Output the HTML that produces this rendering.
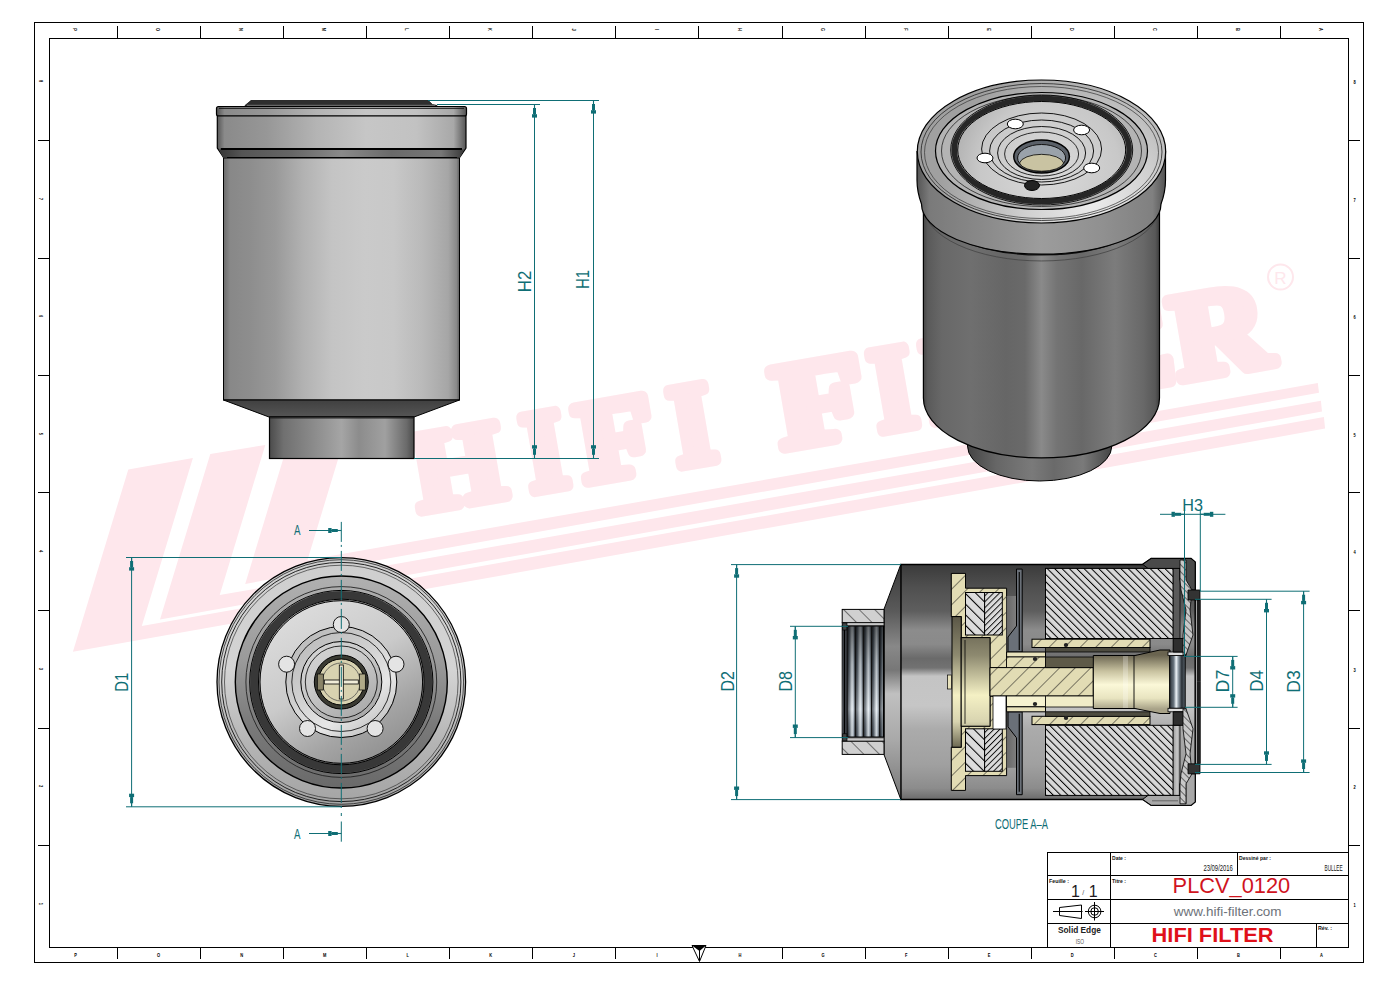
<!DOCTYPE html>
<html><head><meta charset="utf-8">
<style>
html,body{margin:0;padding:0;background:#fff;}
body{width:1400px;height:988px;overflow:hidden;}
svg{display:block;font-family:"Liberation Sans",sans-serif;}
</style></head><body>
<svg width="1400" height="988" viewBox="0 0 1400 988">
<defs><linearGradient id="gFront" x1="223" x2="460" y1="0" y2="0" gradientUnits="userSpaceOnUse">
<stop offset="0" stop-color="#6a6a6a"/><stop offset="0.03" stop-color="#888"/>
<stop offset="0.12" stop-color="#8e8e8e"/><stop offset="0.22" stop-color="#999"/>
<stop offset="0.34" stop-color="#b2b2b2"/><stop offset="0.46" stop-color="#c4c4c4"/>
<stop offset="0.6" stop-color="#cacaca"/><stop offset="0.72" stop-color="#c8c8c8"/>
<stop offset="0.84" stop-color="#bababa"/><stop offset="0.95" stop-color="#a6a6a6"/><stop offset="0.985" stop-color="#8a8a8a"/><stop offset="1" stop-color="#555"/>
</linearGradient>
<linearGradient id="gBand" x1="217" x2="466" y1="0" y2="0" gradientUnits="userSpaceOnUse">
<stop offset="0" stop-color="#555"/><stop offset="0.03" stop-color="#8a8a8a"/>
<stop offset="0.2" stop-color="#979797"/><stop offset="0.4" stop-color="#b4b4b4"/>
<stop offset="0.6" stop-color="#c6c6c6"/><stop offset="0.8" stop-color="#c2c2c2"/>
<stop offset="0.95" stop-color="#a8a8a8"/><stop offset="1" stop-color="#555"/>
</linearGradient>
<linearGradient id="gGroove" x1="217" x2="466" y1="0" y2="0" gradientUnits="userSpaceOnUse">
<stop offset="0" stop-color="#333"/><stop offset="0.1" stop-color="#555"/>
<stop offset="0.3" stop-color="#666"/><stop offset="0.5" stop-color="#8a8a8a"/>
<stop offset="0.7" stop-color="#6a6a6a"/><stop offset="0.9" stop-color="#777"/><stop offset="1" stop-color="#333"/>
</linearGradient>
<linearGradient id="gNeck" x1="269" x2="414" y1="0" y2="0" gradientUnits="userSpaceOnUse">
<stop offset="0" stop-color="#4a4a4a"/><stop offset="0.1" stop-color="#707070"/>
<stop offset="0.3" stop-color="#8a8a8a"/><stop offset="0.5" stop-color="#a5a5a5"/>
<stop offset="0.62" stop-color="#8c8c8c"/><stop offset="0.8" stop-color="#a0a0a0"/>
<stop offset="0.95" stop-color="#6a6a6a"/><stop offset="1" stop-color="#4a4a4a"/>
</linearGradient>
<linearGradient id="gBevel" x1="0" x2="0" y1="400" y2="417" gradientUnits="userSpaceOnUse">
<stop offset="0" stop-color="#404040"/><stop offset="1" stop-color="#555"/>
</linearGradient>
<linearGradient id="gIsoBody" x1="923" x2="1160" y1="0" y2="0" gradientUnits="userSpaceOnUse">
<stop offset="0" stop-color="#444"/><stop offset="0.02" stop-color="#5a5a5a"/>
<stop offset="0.08" stop-color="#686868"/><stop offset="0.2" stop-color="#6f6f6f"/>
<stop offset="0.35" stop-color="#666"/><stop offset="0.43" stop-color="#6a6a6a"/>
<stop offset="0.5" stop-color="#8a8a8a"/><stop offset="0.565" stop-color="#747474"/>
<stop offset="0.67" stop-color="#686868"/><stop offset="0.81" stop-color="#7c7c7c"/>
<stop offset="0.93" stop-color="#686868"/><stop offset="0.98" stop-color="#585858"/>
<stop offset="1" stop-color="#3a3a3a"/>
</linearGradient>
<linearGradient id="gIsoRim" x1="917" x2="1165" y1="0" y2="0" gradientUnits="userSpaceOnUse">
<stop offset="0" stop-color="#555"/><stop offset="0.05" stop-color="#7a7a7a"/>
<stop offset="0.3" stop-color="#8c8c8c"/><stop offset="0.5" stop-color="#9c9c9c"/>
<stop offset="0.75" stop-color="#909090"/><stop offset="0.95" stop-color="#808080"/>
<stop offset="1" stop-color="#555"/>
</linearGradient>
<radialGradient id="gIsoTop" cx="1090" cy="200" r="150" gradientUnits="userSpaceOnUse">
<stop offset="0" stop-color="#ececec"/><stop offset="0.45" stop-color="#cfcfcf"/><stop offset="1" stop-color="#a0a0a0"/>
</radialGradient>
<radialGradient id="gIsoPlate" cx="1050" cy="170" r="100" gradientUnits="userSpaceOnUse">
<stop offset="0" stop-color="#dadada"/><stop offset="0.7" stop-color="#c8c8c8"/><stop offset="1" stop-color="#b0b0b0"/>
</radialGradient>
<linearGradient id="gIsoNeck" x1="967" x2="1112" y1="0" y2="0" gradientUnits="userSpaceOnUse">
<stop offset="0" stop-color="#444"/><stop offset="0.2" stop-color="#666"/>
<stop offset="0.45" stop-color="#7a7a7a"/><stop offset="0.6" stop-color="#6a6a6a"/>
<stop offset="0.8" stop-color="#7a7a7a"/><stop offset="1" stop-color="#444"/>
</linearGradient>
<linearGradient id="gBotOuter" x1="0" x2="0" y1="558" y2="806" gradientUnits="userSpaceOnUse">
<stop offset="0" stop-color="#cecece"/><stop offset="0.45" stop-color="#d4d4d4"/><stop offset="0.75" stop-color="#b4b4b4"/><stop offset="1" stop-color="#a4a4a4"/>
</linearGradient>
<linearGradient id="gBotMid" x1="0" x2="0" y1="576" y2="788" gradientUnits="userSpaceOnUse">
<stop offset="0" stop-color="#b0b0b0"/><stop offset="0.4" stop-color="#9a9a9a"/><stop offset="0.7" stop-color="#7a7a7a"/><stop offset="1" stop-color="#6a6a6a"/>
</linearGradient>
<linearGradient id="gBotPlate" x1="290" x2="390" y1="600" y2="765" gradientUnits="userSpaceOnUse">
<stop offset="0" stop-color="#dedede"/><stop offset="0.45" stop-color="#cacaca"/><stop offset="0.75" stop-color="#a4a4a4"/><stop offset="1" stop-color="#8c8c8c"/>
</linearGradient>
<linearGradient id="gSecBody" x1="0" x2="0" y1="564" y2="800" gradientUnits="userSpaceOnUse">
<stop offset="0" stop-color="#3a3a3a"/><stop offset="0.1" stop-color="#505050"/>
<stop offset="0.2" stop-color="#5e5e5e"/><stop offset="0.28" stop-color="#8c8c8c"/>
<stop offset="0.34" stop-color="#8a8a8a"/><stop offset="0.4" stop-color="#6a6a6a"/>
<stop offset="0.44" stop-color="#727272"/><stop offset="0.475" stop-color="#c4c4c4"/>
<stop offset="0.6" stop-color="#c6c6c6"/><stop offset="0.7" stop-color="#ababab"/>
<stop offset="0.85" stop-color="#a0a0a0"/><stop offset="0.95" stop-color="#8c8c8c"/><stop offset="1" stop-color="#6a6a6a"/>
</linearGradient>
<linearGradient id="gTaper" x1="0" x2="0" y1="564" y2="800" gradientUnits="userSpaceOnUse">
<stop offset="0" stop-color="#3a3a3a"/><stop offset="0.2" stop-color="#5a5a5a"/>
<stop offset="0.35" stop-color="#888"/><stop offset="0.45" stop-color="#777"/>
<stop offset="0.55" stop-color="#c0c0c0"/><stop offset="0.75" stop-color="#a8a8a8"/><stop offset="1" stop-color="#777"/>
</linearGradient>
<linearGradient id="gThread" x1="0" x2="1" y1="0" y2="0" spreadMethod="repeat" gradientUnits="userSpaceOnUse" gradientTransform="translate(847.2,0) scale(8.1,1)">
<stop offset="0" stop-color="#1e2228"/><stop offset="0.25" stop-color="#5a646e"/><stop offset="0.6" stop-color="#e8f0f6"/><stop offset="0.8" stop-color="#a8b4c0"/><stop offset="1" stop-color="#2a3036"/>
</linearGradient>
<linearGradient id="gThreadV" x1="0" x2="0" y1="626" y2="737" gradientUnits="userSpaceOnUse">
<stop offset="0" stop-color="#000" stop-opacity="0.55"/><stop offset="0.35" stop-color="#000" stop-opacity="0.2"/><stop offset="0.75" stop-color="#fff" stop-opacity="0.25"/><stop offset="1" stop-color="#000" stop-opacity="0.1"/>
</linearGradient>
<linearGradient id="gOlive" x1="0" x2="0" y1="616" y2="748" gradientUnits="userSpaceOnUse">
<stop offset="0" stop-color="#5a5646"/><stop offset="0.3" stop-color="#8e8a70"/><stop offset="0.6" stop-color="#f4f0c4"/><stop offset="0.8" stop-color="#d8d4b0"/><stop offset="1" stop-color="#6a6650"/>
</linearGradient>
<linearGradient id="gTube" x1="0" x2="0" y1="655" y2="709" gradientUnits="userSpaceOnUse">
<stop offset="0" stop-color="#6a6450"/><stop offset="0.3" stop-color="#c8c2a0"/><stop offset="0.55" stop-color="#fbf8d8"/><stop offset="0.8" stop-color="#e8e4c0"/><stop offset="1" stop-color="#a8a288"/>
</linearGradient>
<linearGradient id="gMetal" x1="0" x2="1" y1="0" y2="0" gradientUnits="userSpaceOnUse" gradientTransform="translate(1169,0) scale(16,1)">
<stop offset="0" stop-color="#20262c"/><stop offset="0.3" stop-color="#6a7680"/><stop offset="0.45" stop-color="#eef4f8"/><stop offset="0.6" stop-color="#8a96a0"/><stop offset="0.8" stop-color="#2a3036"/><stop offset="1" stop-color="#5a646c"/>
</linearGradient>
<linearGradient id="gDisk" x1="0" x2="1" y1="0" y2="0" gradientUnits="userSpaceOnUse" gradientTransform="translate(1006,0) scale(40,1)">
<stop offset="0" stop-color="#666"/><stop offset="0.4" stop-color="#8c8c8c"/><stop offset="0.7" stop-color="#a8a8a8"/><stop offset="1" stop-color="#7a7a7a"/>
</linearGradient>
<pattern id="hG" patternUnits="userSpaceOnUse" width="7.5" height="7.5" patternTransform="rotate(45)">
<rect width="7.5" height="7.5" fill="#dcdcdc"/><line x1="0.5" y1="0" x2="0.5" y2="7.5" stroke="#000" stroke-width="1.1"/>
</pattern>
<pattern id="hG2" patternUnits="userSpaceOnUse" width="5.2" height="5.2" patternTransform="rotate(-45)">
<rect width="5.2" height="5.2" fill="#d8d8d8"/><line x1="0.5" y1="0" x2="0.5" y2="5.2" stroke="#000" stroke-width="1"/>
</pattern>
<pattern id="hG3" patternUnits="userSpaceOnUse" width="7.5" height="7.5" patternTransform="rotate(-45)">
<rect width="7.5" height="7.5" fill="#dcdcdc"/><line x1="0.5" y1="0" x2="0.5" y2="7.5" stroke="#000" stroke-width="1.1"/>
</pattern>
<pattern id="hB" patternUnits="userSpaceOnUse" width="11" height="11" patternTransform="rotate(45)">
<rect width="11" height="11" fill="#e2dcb4"/><line x1="0" y1="0" x2="0" y2="11" stroke="#111" stroke-width="1"/>
</pattern>
<pattern id="hNeck" patternUnits="userSpaceOnUse" width="11" height="11" patternTransform="rotate(-45)">
<rect width="11" height="11" fill="#d0d0d0"/><line x1="0" y1="0" x2="0" y2="11" stroke="#111" stroke-width="1"/>
</pattern>
<pattern id="hDark" patternUnits="userSpaceOnUse" width="5" height="5" patternTransform="rotate(-45)">
<rect width="5" height="5" fill="#c8c8c8"/><line x1="0" y1="0" x2="0" y2="5" stroke="#222" stroke-width="1.2"/>
</pattern>
<linearGradient id="gBotRing" x1="300" x2="380" y1="630" y2="735" gradientUnits="userSpaceOnUse">
<stop offset="0" stop-color="#b8b8b8"/><stop offset="0.4" stop-color="#cfcfcf"/><stop offset="0.7" stop-color="#e6e6e6"/><stop offset="1" stop-color="#bdbdbd"/>
</linearGradient>
<linearGradient id="gCapLo" x1="1173" x2="1180" y1="0" y2="0" gradientUnits="userSpaceOnUse">
<stop offset="0" stop-color="#9a9a9a"/><stop offset="0.6" stop-color="#c8c8c8"/><stop offset="1" stop-color="#8a8a8a"/>
</linearGradient>
<pattern id="hG4" patternUnits="userSpaceOnUse" width="4.2" height="4.2" patternTransform="rotate(45)">
<rect width="4.2" height="4.2" fill="#dcdcdc"/><line x1="0.5" y1="0" x2="0.5" y2="4.2" stroke="#000" stroke-width="0.9"/>
</pattern>
</defs>
<rect width="1400" height="988" fill="#fff"/>
<g id="wm" fill="#fee7ec">
<path d="M128.3,469.5 L192.9,458.0 L141.8,626.0 L1323.9,417.1 L1325.1,428.6 L72.9,651.8 Z"/>
<path d="M210.3,454.1 L265.3,445.0 L219.7,595.1 L1320.9,400.7 L1322.0,411.6 L160.0,619.4 Z"/>
<path d="M292.0,430.0 L350.0,420.0 L307.5,559.9 L1317.8,383.1 L1319.0,392.8 L245.2,583.9 Z"/>
<g transform="translate(414,519) rotate(-9.8)" font-family="Liberation Serif" font-weight="bold" font-size="112" stroke="#fee7ec" stroke-width="12" stroke-linejoin="round">
<text x="7" y="-7" font-size="112" textLength="90" lengthAdjust="spacingAndGlyphs">H</text>
<text x="120" y="-7" font-size="114" textLength="41" lengthAdjust="spacingAndGlyphs">I</text>
<text x="175" y="-7" font-size="114" textLength="76" lengthAdjust="spacingAndGlyphs">F</text>
<text x="269" y="-7" font-size="116" textLength="42" lengthAdjust="spacingAndGlyphs">I</text>
<text x="375" y="-7" font-size="120" textLength="90" lengthAdjust="spacingAndGlyphs">F</text>
<text x="473" y="-7" font-size="120" textLength="42" lengthAdjust="spacingAndGlyphs">I</text>
<text x="528" y="-7" font-size="120" textLength="75" lengthAdjust="spacingAndGlyphs">L</text>
<text x="613" y="-7" font-size="120" textLength="80" lengthAdjust="spacingAndGlyphs">T</text>
<text x="700" y="-7" font-size="120" textLength="76" lengthAdjust="spacingAndGlyphs">E</text>
<text x="778" y="-7" font-size="122" textLength="96" lengthAdjust="spacingAndGlyphs">R</text>
</g>
<circle cx="1280.5" cy="277" r="12.5" fill="none" stroke="#fee7ec" stroke-width="2"/>
<text x="1280.5" y="283.5" font-size="17" fill="#fee7ec" text-anchor="middle" font-family="Liberation Sans">R</text>
</g>
<g fill="none" stroke="#000" stroke-width="1">
<rect x="34.5" y="22.5" width="1329" height="940"/>
<rect x="49.5" y="38.5" width="1299" height="909"/>
<line x1="117.5" y1="26" x2="117.5" y2="38.5"/>
<line x1="117.5" y1="947.5" x2="117.5" y2="959"/>
<line x1="200.5" y1="26" x2="200.5" y2="38.5"/>
<line x1="200.5" y1="947.5" x2="200.5" y2="959"/>
<line x1="283.5" y1="26" x2="283.5" y2="38.5"/>
<line x1="283.5" y1="947.5" x2="283.5" y2="959"/>
<line x1="366.5" y1="26" x2="366.5" y2="38.5"/>
<line x1="366.5" y1="947.5" x2="366.5" y2="959"/>
<line x1="449.5" y1="26" x2="449.5" y2="38.5"/>
<line x1="449.5" y1="947.5" x2="449.5" y2="959"/>
<line x1="532.5" y1="26" x2="532.5" y2="38.5"/>
<line x1="532.5" y1="947.5" x2="532.5" y2="959"/>
<line x1="615.5" y1="26" x2="615.5" y2="38.5"/>
<line x1="615.5" y1="947.5" x2="615.5" y2="959"/>
<line x1="698.5" y1="26" x2="698.5" y2="38.5"/>
<line x1="698.5" y1="947.5" x2="698.5" y2="959"/>
<line x1="782.5" y1="26" x2="782.5" y2="38.5"/>
<line x1="782.5" y1="947.5" x2="782.5" y2="959"/>
<line x1="865.5" y1="26" x2="865.5" y2="38.5"/>
<line x1="865.5" y1="947.5" x2="865.5" y2="959"/>
<line x1="948.5" y1="26" x2="948.5" y2="38.5"/>
<line x1="948.5" y1="947.5" x2="948.5" y2="959"/>
<line x1="1031.5" y1="26" x2="1031.5" y2="38.5"/>
<line x1="1031.5" y1="947.5" x2="1031.5" y2="959"/>
<line x1="1114.5" y1="26" x2="1114.5" y2="38.5"/>
<line x1="1114.5" y1="947.5" x2="1114.5" y2="959"/>
<line x1="1197.5" y1="26" x2="1197.5" y2="38.5"/>
<line x1="1197.5" y1="947.5" x2="1197.5" y2="959"/>
<line x1="1280.5" y1="26" x2="1280.5" y2="38.5"/>
<line x1="1280.5" y1="947.5" x2="1280.5" y2="959"/>
<line x1="38" y1="140.5" x2="49.5" y2="140.5"/>
<line x1="1348.5" y1="140.5" x2="1360" y2="140.5"/>
<line x1="38" y1="258.5" x2="49.5" y2="258.5"/>
<line x1="1348.5" y1="258.5" x2="1360" y2="258.5"/>
<line x1="38" y1="375.5" x2="49.5" y2="375.5"/>
<line x1="1348.5" y1="375.5" x2="1360" y2="375.5"/>
<line x1="38" y1="492.5" x2="49.5" y2="492.5"/>
<line x1="1348.5" y1="492.5" x2="1360" y2="492.5"/>
<line x1="38" y1="610.5" x2="49.5" y2="610.5"/>
<line x1="1348.5" y1="610.5" x2="1360" y2="610.5"/>
<line x1="38" y1="728.5" x2="49.5" y2="728.5"/>
<line x1="1348.5" y1="728.5" x2="1360" y2="728.5"/>
<line x1="38" y1="845.5" x2="49.5" y2="845.5"/>
<line x1="1348.5" y1="845.5" x2="1360" y2="845.5"/>
</g>
<path d="M692,945.5 L706,945.5 L699.5,961.5 Z" fill="#fff" stroke="#000" stroke-width="1"/>
<path d="M692,945.5 L706,945.5 L699.5,951 Z" fill="#000"/>
<line x1="699.5" y1="948" x2="699.5" y2="961" stroke="#000" stroke-width="1"/>
<g font-size="8" fill="#000" text-anchor="middle" font-weight="bold">
<text x="0" y="0" transform="translate(75.5,957) scale(0.5,0.78)">P</text>
<text x="0" y="0" transform="translate(75.5,29.5) rotate(90) scale(0.5,0.78) translate(0,3)">P</text>
<text x="0" y="0" transform="translate(158.5,957) scale(0.5,0.78)">O</text>
<text x="0" y="0" transform="translate(158.5,29.5) rotate(90) scale(0.5,0.78) translate(0,3)">O</text>
<text x="0" y="0" transform="translate(241.6,957) scale(0.5,0.78)">N</text>
<text x="0" y="0" transform="translate(241.6,29.5) rotate(90) scale(0.5,0.78) translate(0,3)">N</text>
<text x="0" y="0" transform="translate(324.7,957) scale(0.5,0.78)">M</text>
<text x="0" y="0" transform="translate(324.7,29.5) rotate(90) scale(0.5,0.78) translate(0,3)">M</text>
<text x="0" y="0" transform="translate(407.7,957) scale(0.5,0.78)">L</text>
<text x="0" y="0" transform="translate(407.7,29.5) rotate(90) scale(0.5,0.78) translate(0,3)">L</text>
<text x="0" y="0" transform="translate(490.8,957) scale(0.5,0.78)">K</text>
<text x="0" y="0" transform="translate(490.8,29.5) rotate(90) scale(0.5,0.78) translate(0,3)">K</text>
<text x="0" y="0" transform="translate(573.9,957) scale(0.5,0.78)">J</text>
<text x="0" y="0" transform="translate(573.9,29.5) rotate(90) scale(0.5,0.78) translate(0,3)">J</text>
<text x="0" y="0" transform="translate(657.0,957) scale(0.5,0.78)">I</text>
<text x="0" y="0" transform="translate(657.0,29.5) rotate(90) scale(0.5,0.78) translate(0,3)">I</text>
<text x="0" y="0" transform="translate(740.0,957) scale(0.5,0.78)">H</text>
<text x="0" y="0" transform="translate(740.0,29.5) rotate(90) scale(0.5,0.78) translate(0,3)">H</text>
<text x="0" y="0" transform="translate(823.1,957) scale(0.5,0.78)">G</text>
<text x="0" y="0" transform="translate(823.1,29.5) rotate(90) scale(0.5,0.78) translate(0,3)">G</text>
<text x="0" y="0" transform="translate(906.2,957) scale(0.5,0.78)">F</text>
<text x="0" y="0" transform="translate(906.2,29.5) rotate(90) scale(0.5,0.78) translate(0,3)">F</text>
<text x="0" y="0" transform="translate(989.2,957) scale(0.5,0.78)">E</text>
<text x="0" y="0" transform="translate(989.2,29.5) rotate(90) scale(0.5,0.78) translate(0,3)">E</text>
<text x="0" y="0" transform="translate(1072.3,957) scale(0.5,0.78)">D</text>
<text x="0" y="0" transform="translate(1072.3,29.5) rotate(90) scale(0.5,0.78) translate(0,3)">D</text>
<text x="0" y="0" transform="translate(1155.4,957) scale(0.5,0.78)">C</text>
<text x="0" y="0" transform="translate(1155.4,29.5) rotate(90) scale(0.5,0.78) translate(0,3)">C</text>
<text x="0" y="0" transform="translate(1238.4,957) scale(0.5,0.78)">B</text>
<text x="0" y="0" transform="translate(1238.4,29.5) rotate(90) scale(0.5,0.78) translate(0,3)">B</text>
<text x="0" y="0" transform="translate(1321.5,957) scale(0.5,0.78)">A</text>
<text x="0" y="0" transform="translate(1321.5,29.5) rotate(90) scale(0.5,0.78) translate(0,3)">A</text>
<text x="0" y="0" transform="translate(1354.5,84.2) scale(0.5,0.78)">8</text>
<text x="0" y="0" transform="translate(41.5,81.2) rotate(90) scale(0.5,0.78) translate(0,3)">8</text>
<text x="0" y="0" transform="translate(1354.5,201.8) scale(0.5,0.78)">7</text>
<text x="0" y="0" transform="translate(41.5,198.8) rotate(90) scale(0.5,0.78) translate(0,3)">7</text>
<text x="0" y="0" transform="translate(1354.5,319.2) scale(0.5,0.78)">6</text>
<text x="0" y="0" transform="translate(41.5,316.2) rotate(90) scale(0.5,0.78) translate(0,3)">6</text>
<text x="0" y="0" transform="translate(1354.5,436.8) scale(0.5,0.78)">5</text>
<text x="0" y="0" transform="translate(41.5,433.8) rotate(90) scale(0.5,0.78) translate(0,3)">5</text>
<text x="0" y="0" transform="translate(1354.5,554.2) scale(0.5,0.78)">4</text>
<text x="0" y="0" transform="translate(41.5,551.2) rotate(90) scale(0.5,0.78) translate(0,3)">4</text>
<text x="0" y="0" transform="translate(1354.5,671.8) scale(0.5,0.78)">3</text>
<text x="0" y="0" transform="translate(41.5,668.8) rotate(90) scale(0.5,0.78) translate(0,3)">3</text>
<text x="0" y="0" transform="translate(1354.5,789.2) scale(0.5,0.78)">2</text>
<text x="0" y="0" transform="translate(41.5,786.2) rotate(90) scale(0.5,0.78) translate(0,3)">2</text>
<text x="0" y="0" transform="translate(1354.5,906.8) scale(0.5,0.78)">1</text>
<text x="0" y="0" transform="translate(41.5,903.8) rotate(90) scale(0.5,0.78) translate(0,3)">1</text>
</g>
<g id="front">
<path d="M245,106.5 L245,105.5 L251,100.5 L428.3,100.5 L432.4,104.5 L437,105.5 L437,106.5 Z" fill="#2e2e2e" stroke="#111" stroke-width="0.8"/>
<line x1="247" y1="105.3" x2="435" y2="105.3" stroke="#888" stroke-width="0.8"/>
<rect x="216.5" y="106.5" width="250" height="9.5" rx="2" fill="url(#gBand)" stroke="#000" stroke-width="1.2"/>
<line x1="219" y1="108.3" x2="464" y2="108.3" stroke="#111" stroke-width="1"/>
<path d="M217.3,116 L466,116 L466,148 L460,157 L223.2,157 L217.3,148 Z" fill="url(#gBand)" stroke="#000" stroke-width="1.2"/>
<path d="M219,149.5 L464,149.5 L460,157.5 L223,157.5 Z" fill="url(#gGroove)"/>
<line x1="220.8" y1="149" x2="462" y2="149" stroke="#000" stroke-width="2"/>
<line x1="227" y1="158" x2="457" y2="158" stroke="#000" stroke-width="2"/>
<rect x="223.5" y="158" width="236" height="242" fill="url(#gFront)" stroke="#000" stroke-width="1"/>
<path d="M223.5,400 L459.5,400 L414,417 L269,417 Z" fill="url(#gBevel)" stroke="#000" stroke-width="1"/>
<rect x="269.5" y="417" width="144.5" height="41.5" fill="url(#gNeck)" stroke="#000" stroke-width="1.2"/>
<line x1="270" y1="418" x2="413.5" y2="418" stroke="#222" stroke-width="1"/>
</g>

<g id="iso">
<path d="M967.5,430 L1111.8,430 L1111.8,446 A72.15,35 0 0 1 967.5,446 Z" fill="url(#gIsoNeck)" stroke="#000" stroke-width="1"/>
<path d="M923.4,205 L1159.5,205 L1159.5,398 A118.05,60 0 0 1 923.4,398 Z" fill="url(#gIsoBody)" stroke="#000" stroke-width="1.2"/>
<path d="M923.4,200 A118.05,55 0 0 0 1159.5,200" fill="none" stroke="#111" stroke-width="1.3"/>
<path d="M921.5,201 A119.5,50 0 0 0 1161,201" fill="none" stroke="#222" stroke-width="0.9"/>
<path d="M923.4,206 A118.05,55 0 0 0 1159.5,206" fill="none" stroke="#444" stroke-width="0.8"/>
<path d="M917,151.5 L1165.5,151.5 L1165.5,180 Q1165.5,192 1161,204 A119.5,50 0 0 1 921.5,204 Q917,192 917,180 Z" fill="url(#gIsoRim)" stroke="#000" stroke-width="1.2"/>
<ellipse cx="1041.5" cy="151.5" rx="124.2" ry="71.5" fill="url(#gIsoTop)" stroke="#000" stroke-width="1.2" />
<ellipse cx="1041.5" cy="152" rx="120.5" ry="68.5" fill="none" stroke="#222" stroke-width="0.8" />
<ellipse cx="1041.5" cy="152.5" rx="117" ry="66" fill="none" stroke="#333" stroke-width="0.7" />
<ellipse cx="1041.5" cy="151" rx="106" ry="58.5" fill="#b4b4b4" stroke="#000" stroke-width="1.2" />
<ellipse cx="1041.5" cy="151" rx="100" ry="55.5" fill="none" stroke="#222" stroke-width="0.8" />
<ellipse cx="1041.7" cy="150" rx="87.5" ry="51.5" fill="none" stroke="#262626" stroke-width="5.5" />
<ellipse cx="1041.7" cy="150" rx="84" ry="48.5" fill="url(#gIsoPlate)" stroke="#000" stroke-width="1" />
<ellipse cx="1041.7" cy="150" rx="91" ry="55" fill="none" stroke="#000" stroke-width="0.9" />
<ellipse cx="1041.6" cy="149" rx="60" ry="36" fill="none" stroke="#000" stroke-width="0.9" />
<ellipse cx="1041.6" cy="151" rx="52" ry="31" fill="none" stroke="#000" stroke-width="0.9" />
<ellipse cx="1041.6" cy="153" rx="44" ry="26.5" fill="none" stroke="#000" stroke-width="0.9" />
<ellipse cx="1041.6" cy="154" rx="37" ry="22" fill="none" stroke="#000" stroke-width="0.8" />
<ellipse cx="1041.6" cy="156.5" rx="27.8" ry="16.5" fill="#5a6068" stroke="#000" stroke-width="1.5" />
<ellipse cx="1041.6" cy="158" rx="24" ry="13.5" fill="#9aa2aa" stroke="#111" stroke-width="1" />
<path d="M1019.5,163 A22.3,10 0 0 1 1063.7,163 A22.3,9.5 0 0 1 1019.5,163 Z" fill="#c9c3a2" stroke="#000" stroke-width="0.8"/>
<ellipse cx="1015.3" cy="124" rx="8" ry="4.8" fill="#fff" stroke="#000" stroke-width="1" />
<ellipse cx="1081.6" cy="130" rx="8" ry="4.8" fill="#fff" stroke="#000" stroke-width="1" />
<ellipse cx="1091.7" cy="168" rx="8" ry="4.8" fill="#fff" stroke="#000" stroke-width="1" />
<ellipse cx="985" cy="158" rx="8" ry="4.8" fill="#fff" stroke="#000" stroke-width="1" />
<ellipse cx="1032" cy="185.5" rx="7.5" ry="5" fill="#222" stroke="#000" stroke-width="1" />
</g>
<g id="bottom">
<circle cx="341.3" cy="682" r="124.3" fill="url(#gBotOuter)" stroke="#000" stroke-width="1.3"/>
<circle cx="341.3" cy="682" r="122.3" fill="none" stroke="#222" stroke-width="0.8"/>
<circle cx="341.3" cy="682" r="119.6" fill="none" stroke="#111" stroke-width="0.9"/>
<circle cx="341.3" cy="682" r="116.8" fill="none" stroke="#333" stroke-width="0.7"/>
<circle cx="341.3" cy="682" r="106" fill="url(#gBotMid)" stroke="#000" stroke-width="1.4"/>
<circle cx="341.3" cy="682" r="95.4" fill="none" stroke="#222" stroke-width="0.9"/>
<circle cx="341.3" cy="682" r="87" fill="none" stroke="#383838" stroke-width="8"/>
<circle cx="341.3" cy="682" r="91.6" fill="none" stroke="#000" stroke-width="1"/>
<circle cx="341.3" cy="682" r="82.8" fill="none" stroke="#000" stroke-width="1"/>
<circle cx="341.3" cy="682" r="81.3" fill="url(#gBotPlate)" stroke="#000" stroke-width="1"/>
<circle cx="341.3" cy="682" r="47.5" fill="none" stroke="url(#gBotRing)" stroke-width="15"/>
<circle cx="341.3" cy="682" r="55.5" fill="none" stroke="#000" stroke-width="1"/>
<circle cx="341.3" cy="682" r="49.5" fill="none" stroke="#000" stroke-width="0.8"/>
<circle cx="341.3" cy="682" r="40.5" fill="none" stroke="#000" stroke-width="1"/>
<circle cx="341.3" cy="682" r="36" fill="none" stroke="#000" stroke-width="0.8"/>
<circle cx="341.3" cy="624.5" r="8" fill="#e4e4e4" stroke="#000" stroke-width="0.9"/>
<circle cx="396.0" cy="664.2" r="8" fill="#e4e4e4" stroke="#000" stroke-width="0.9"/>
<circle cx="375.1" cy="728.5" r="8" fill="#e4e4e4" stroke="#000" stroke-width="0.9"/>
<circle cx="307.5" cy="728.5" r="8" fill="#e4e4e4" stroke="#000" stroke-width="0.9"/>
<circle cx="286.6" cy="664.2" r="8" fill="#e4e4e4" stroke="#000" stroke-width="0.9"/>
<circle cx="341.3" cy="682" r="27" fill="#3a3a32" stroke="#000" stroke-width="1"/>
<circle cx="341.3" cy="682" r="23" fill="#d8d2b0" stroke="#000" stroke-width="1"/>
<circle cx="341.3" cy="682" r="19" fill="none" stroke="#444" stroke-width="0.7"/>
<rect x="324.3" y="680" width="34" height="4" fill="#f0ecd8" stroke="#000" stroke-width="0.8"/>
<rect x="339.3" y="665" width="4" height="34" fill="#f0ecd8" stroke="#000" stroke-width="0.8"/>
<rect x="317.3" y="674" width="6" height="16" fill="#8a8468" stroke="#000" stroke-width="0.7"/>
<rect x="359.3" y="674" width="6" height="16" fill="#b0aa88" stroke="#000" stroke-width="0.7"/>
</g>
<g id="section">
<path d="M900.8,564.4 L1142.7,564.4 L1151.2,558.5 L1191,558.5 L1195.2,562 L1195.2,801.8 L1191,805.3 L1151.2,805.3 L1142.7,799.4 L900.8,799.4 Z" fill="url(#gSecBody)" stroke="#000" stroke-width="1.5"/>
<path d="M884,609.2 L900.8,564.4 L900.8,799.4 L884,754.6 Z" fill="url(#gTaper)" stroke="#000" stroke-width="1"/>
<rect x="842.2" y="609.4" width="41.80" height="13.30" fill="url(#hNeck)" stroke="#000" stroke-width="1"/>
<rect x="842.2" y="741.10" width="41.80" height="13.30" fill="url(#hNeck)" stroke="#000" stroke-width="1"/>
<rect x="842.2" y="622.7" width="41.80" height="3.30" fill="#c8c8c8" stroke="#000" stroke-width="0.8"/>
<rect x="842.2" y="737.80" width="41.80" height="3.30" fill="#c8c8c8" stroke="#000" stroke-width="0.8"/>
<rect x="842.2" y="626" width="41.8" height="111" fill="url(#gThread)" stroke="#000" stroke-width="1"/>
<rect x="842.2" y="626" width="41.8" height="111" fill="url(#gThreadV)"/>
<rect x="842.7" y="626" width="4.5" height="111" fill="#3a3e44"/>
<line x1="844.5" y1="626" x2="844.5" y2="737" stroke="#000" stroke-width="1"/>
<rect x="842.7" y="623" width="4.30" height="7.00" fill="#444" stroke="#000" stroke-width="0.7"/>
<rect x="842.7" y="733.80" width="4.30" height="7.00" fill="#444" stroke="#000" stroke-width="0.7"/>
<line x1="847.2" y1="626" x2="847.2" y2="737" stroke="#111" stroke-width="1"/>
<line x1="855.3" y1="626" x2="855.3" y2="737" stroke="#111" stroke-width="1"/>
<line x1="863.4" y1="626" x2="863.4" y2="737" stroke="#111" stroke-width="1"/>
<line x1="871.5" y1="626" x2="871.5" y2="737" stroke="#111" stroke-width="1"/>
<line x1="879.6" y1="626" x2="879.6" y2="737" stroke="#111" stroke-width="1"/>
<line x1="883.5" y1="626" x2="883.5" y2="737" stroke="#000" stroke-width="1.2"/>
<path d="M951.30,573.40 L965.50,573.40 L965.50,588.20 L1006.60,588.20 L1006.60,667.60 L990.00,667.60 L990.00,637.60 L961.20,637.60 L961.20,616.60 L951.30,616.60 Z" fill="url(#hB)" stroke="#000" stroke-width="1"/>
<path d="M951.30,790.40 L965.50,790.40 L965.50,775.60 L1006.60,775.60 L1006.60,696.20 L990.00,696.20 L990.00,726.20 L961.20,726.20 L961.20,747.20 L951.30,747.20 Z" fill="url(#hB)" stroke="#000" stroke-width="1"/>
<rect x="952" y="616.6" width="9.2" height="130.6" fill="url(#gOlive)" stroke="#000" stroke-width="1"/>
<rect x="961.2" y="637.6" width="28.8" height="88.6" fill="url(#gOlive)" stroke="#000" stroke-width="1"/>
<line x1="965" y1="640" x2="965" y2="723.8" stroke="#000" stroke-width="0.8"/>
<rect x="947.5" y="675" width="4" height="14" fill="#e8e2bc" stroke="#000" stroke-width="0.7"/>
<rect x="965.5" y="592.5" width="19.10" height="42.50" fill="url(#hG3)" stroke="#000" stroke-width="1"/>
<rect x="965.5" y="728.80" width="19.10" height="42.50" fill="url(#hG3)" stroke="#000" stroke-width="1"/>
<rect x="984.6" y="592.5" width="17.70" height="42.50" fill="url(#hG4)" stroke="#000" stroke-width="1"/>
<rect x="984.6" y="728.80" width="17.70" height="42.50" fill="url(#hG4)" stroke="#000" stroke-width="1"/>
<rect x="1006.6" y="596" width="9.90" height="56.00" fill="url(#gDisk)" stroke="none" stroke-width="0"/>
<rect x="1006.6" y="711.80" width="9.90" height="56.00" fill="url(#gDisk)" stroke="none" stroke-width="0"/>
<path d="M1016.50,569.10 L1022.20,569.10 L1022.20,652.00 L1008.00,652.00 L1008.00,637.00 L1016.50,626.00 Z" fill="#6a7078" stroke="#000" stroke-width="1"/>
<path d="M1016.50,794.70 L1022.20,794.70 L1022.20,711.80 L1008.00,711.80 L1008.00,726.80 L1016.50,737.80 Z" fill="#6a7078" stroke="#000" stroke-width="1"/>
<line x1="1019.3" y1="572" x2="1019.3" y2="650" stroke="#111" stroke-width="1.3"/>
<line x1="1019.3" y1="791.8" x2="1019.3" y2="713.8" stroke="#111" stroke-width="1.3"/>
<path d="M1006.60,652.00 L1045.50,652.00 L1045.50,657.00 L1006.60,657.00 Z" fill="#e8e2bc" stroke="#000" stroke-width="1"/>
<path d="M1006.60,711.80 L1045.50,711.80 L1045.50,706.80 L1006.60,706.80 Z" fill="#e8e2bc" stroke="#000" stroke-width="1"/>
<rect x="1045.5" y="568.4" width="127.70" height="70.10" fill="url(#hG2)" stroke="#000" stroke-width="1"/>
<rect x="1045.5" y="725.30" width="127.70" height="70.10" fill="url(#hG2)" stroke="#000" stroke-width="1"/>
<rect x="1032" y="639.2" width="118.00" height="8.30" fill="url(#hB)" stroke="#000" stroke-width="1"/>
<rect x="1032" y="716.30" width="118.00" height="8.30" fill="url(#hB)" stroke="#000" stroke-width="1"/>
<rect x="1045.5" y="647.5" width="104.50" height="4.50" fill="#4e4c40" stroke="#000" stroke-width="0.8"/>
<rect x="1045.5" y="711.80" width="104.50" height="4.50" fill="#4e4c40" stroke="#000" stroke-width="0.8"/>
<path d="M990,667.6 L1093.3,667.6 L1093.3,696.0 L990,696.0 Z" fill="url(#hB)" stroke="#000" stroke-width="1"/>
<rect x="1006.6" y="657" width="38.9" height="10.6" fill="url(#hB)" stroke="#000" stroke-width="0.8"/>
<rect x="1006.6" y="696" width="38.9" height="10.6" fill="#f6f2d0" stroke="#000" stroke-width="0.8"/>
<rect x="993" y="696" width="13" height="33" fill="#fff" stroke="#000" stroke-width="0.8"/>
<path d="M1045.5,657 L1100,657 L1110,664 L1125,664 L1125,655.5 L1150,655.5 L1150,667.6 L1045.5,667.6 Z" fill="#5e5a48" stroke="#000" stroke-width="0.8"/>
<path d="M1045.5,696 L1150,696 L1150,708.5 L1125,708.5 L1125,700 L1110,700 L1100,707 L1045.5,707 Z" fill="#f0ecc8" stroke="#000" stroke-width="0.8"/>
<path d="M1093.3,655.5 L1135,655.5 L1160,650 L1170,650 L1170,713.5 L1160,713.5 L1135,708.5 L1093.3,708.5 Z" fill="url(#gTube)" stroke="#000" stroke-width="1"/>
<line x1="1134" y1="656" x2="1134" y2="708" stroke="#000" stroke-width="0.9"/>
<rect x="1123" y="656" width="5" height="52" fill="#fff" fill-opacity="0.25"/>
<ellipse cx="1035" cy="659" rx="2.2" ry="2" fill="#222"/>
<ellipse cx="1035" cy="704" rx="2.2" ry="2" fill="#222"/>
<ellipse cx="1066" cy="645" rx="2.2" ry="2" fill="#222"/>
<ellipse cx="1066" cy="718" rx="2.2" ry="2" fill="#222"/>
<rect x="1169.7" y="655.5" width="15.5" height="52.8" fill="url(#gMetal)" stroke="#000" stroke-width="1"/>
<rect x="1168" y="652" width="18.00" height="3.50" fill="#ddd" stroke="#000" stroke-width="0.8"/>
<rect x="1168" y="708.30" width="18.00" height="3.50" fill="#ddd" stroke="#000" stroke-width="0.8"/>
<path d="M1173.20,564.40 L1180.00,564.40 L1180.00,638.50 L1173.20,638.50 Z" fill="#5a5a5a" stroke="#000" stroke-width="0.8"/>
<path d="M1173.20,799.40 L1180.00,799.40 L1180.00,725.30 L1173.20,725.30 Z" fill="url(#gCapLo)" stroke="#000" stroke-width="0.8"/>
<path d="M1142.70,564.40 L1151.20,558.50 L1191.00,558.50 L1195.20,562.00 L1195.20,590.00 L1188.00,590.00 L1180.00,580.00 L1180.00,568.40 L1148.00,568.40 Z" fill="#4a4a4a" stroke="#000" stroke-width="1"/>
<path d="M1142.70,799.40 L1151.20,805.30 L1191.00,805.30 L1195.20,801.80 L1195.20,773.80 L1188.00,773.80 L1180.00,783.80 L1180.00,795.40 L1148.00,795.40 Z" fill="#a8a8a8" stroke="#000" stroke-width="1"/>
<line x1="1186" y1="778.8" x2="1186" y2="803.8" stroke="#333" stroke-width="0.8"/>
<line x1="1152" y1="800.8" x2="1178" y2="800.8" stroke="#555" stroke-width="0.8"/>
<path d="M1173.20,638.50 L1186.00,638.50 L1186.00,652.00 L1173.20,652.00 Z" fill="#2e2e2e" stroke="#000" stroke-width="1"/>
<path d="M1173.20,725.30 L1186.00,725.30 L1186.00,711.80 L1173.20,711.80 Z" fill="#2e2e2e" stroke="#000" stroke-width="1"/>
<path d="M1180.00,560.00 L1186.00,560.00 L1186.00,580.00 L1192.00,590.00 L1190.00,610.00 L1193.00,635.00 L1186.00,655.00 L1183.00,655.00 L1183.00,635.00 L1186.00,610.00 L1181.00,590.00 L1180.00,580.00 Z" fill="url(#hDark)" stroke="#000" stroke-width="0.8"/>
<path d="M1180.00,803.80 L1186.00,803.80 L1186.00,783.80 L1192.00,773.80 L1190.00,753.80 L1193.00,728.80 L1186.00,708.80 L1183.00,708.80 L1183.00,728.80 L1186.00,753.80 L1181.00,773.80 L1180.00,783.80 Z" fill="url(#hDark)" stroke="#000" stroke-width="0.8"/>
<rect x="1196.6" y="600" width="4.20" height="81.90" fill="#1e1e1e" stroke="none" stroke-width="0"/>
<rect x="1196.6" y="681.90" width="4.20" height="81.90" fill="#1e1e1e" stroke="none" stroke-width="0"/>
<path d="M1188.00,590.00 L1200.00,590.00 L1200.00,600.00 L1188.00,600.00 Z" fill="#333" stroke="#000" stroke-width="0.8"/>
<path d="M1188.00,773.80 L1200.00,773.80 L1200.00,763.80 L1188.00,763.80 Z" fill="#333" stroke="#000" stroke-width="0.8"/>
</g>
<g id="dims">
<line x1="428" y1="100.5" x2="599" y2="100.5" stroke="#0f6e75" stroke-width="1"/>
<line x1="437" y1="104.5" x2="540" y2="104.5" stroke="#0f6e75" stroke-width="1"/>
<line x1="414" y1="458.5" x2="599" y2="458.5" stroke="#0f6e75" stroke-width="1"/>
<line x1="593.5" y1="100.5" x2="593.5" y2="458.5" stroke="#0f6e75" stroke-width="1"/>
<line x1="534.5" y1="104.5" x2="534.5" y2="458.5" stroke="#0f6e75" stroke-width="1"/>
<rect x="592.95" y="100.80" width="1.1" height="3.20" fill="#0f6e75"/>
<rect x="592.00" y="104.00" width="3.0" height="6.20" fill="#0f6e75"/>
<rect x="591.00" y="110.20" width="5.0" height="3.40" fill="#0f6e75"/>
<rect x="592.95" y="454.80" width="1.1" height="3.20" fill="#0f6e75"/>
<rect x="592.00" y="448.60" width="3.0" height="6.20" fill="#0f6e75"/>
<rect x="591.00" y="445.20" width="5.0" height="3.40" fill="#0f6e75"/>
<rect x="533.95" y="104.80" width="1.1" height="3.20" fill="#0f6e75"/>
<rect x="533.00" y="108.00" width="3.0" height="6.20" fill="#0f6e75"/>
<rect x="532.00" y="114.20" width="5.0" height="3.40" fill="#0f6e75"/>
<rect x="533.95" y="454.80" width="1.1" height="3.20" fill="#0f6e75"/>
<rect x="533.00" y="448.60" width="3.0" height="6.20" fill="#0f6e75"/>
<rect x="532.00" y="445.20" width="5.0" height="3.40" fill="#0f6e75"/>
<text x="0" y="0" transform="translate(531.2,281.5) rotate(-90)" text-anchor="middle" font-size="18.5" fill="#0f6e75" textLength="21.4" lengthAdjust="spacingAndGlyphs">H2</text>
<text x="0" y="0" transform="translate(589.2,279.5) rotate(-90)" text-anchor="middle" font-size="18.5" fill="#0f6e75" textLength="19.2" lengthAdjust="spacingAndGlyphs">H1</text>
<line x1="126" y1="557.5" x2="341.5" y2="557.5" stroke="#0f6e75" stroke-width="1"/>
<line x1="126" y1="806.8" x2="341.5" y2="806.8" stroke="#0f6e75" stroke-width="1"/>
<line x1="131.6" y1="557.5" x2="131.6" y2="806.8" stroke="#0f6e75" stroke-width="1"/>
<rect x="131.05" y="557.80" width="1.1" height="3.20" fill="#0f6e75"/>
<rect x="130.10" y="561.00" width="3.0" height="6.20" fill="#0f6e75"/>
<rect x="129.10" y="567.20" width="5.0" height="3.40" fill="#0f6e75"/>
<rect x="131.05" y="803.30" width="1.1" height="3.20" fill="#0f6e75"/>
<rect x="130.10" y="797.10" width="3.0" height="6.20" fill="#0f6e75"/>
<rect x="129.10" y="793.70" width="5.0" height="3.40" fill="#0f6e75"/>
<text x="0" y="0" transform="translate(128.3,682.3) rotate(-90)" text-anchor="middle" font-size="18.5" fill="#0f6e75" textLength="19" lengthAdjust="spacingAndGlyphs">D1</text>
<line x1="341.3" y1="521.9" x2="341.3" y2="808" stroke="#0f6e75" stroke-width="1" stroke-dasharray="20 3 2 4"/>
<line x1="341.3" y1="813" x2="341.3" y2="816" stroke="#0f6e75" stroke-width="1"/>
<line x1="341.3" y1="821.5" x2="341.3" y2="841.7" stroke="#0f6e75" stroke-width="1"/>
<line x1="309" y1="530.5" x2="341.3" y2="530.5" stroke="#0f6e75" stroke-width="1"/>
<rect x="337.80" y="529.95" width="3.20" height="1.1" fill="#0f6e75"/>
<rect x="331.60" y="529.00" width="6.20" height="3.0" fill="#0f6e75"/>
<rect x="328.20" y="528.00" width="3.40" height="5.0" fill="#0f6e75"/>
<text x="294" y="534.8" font-size="14.5" fill="#0f6e75" textLength="6.5" lengthAdjust="spacingAndGlyphs">A</text>
<line x1="309" y1="833.5" x2="341.3" y2="833.5" stroke="#0f6e75" stroke-width="1"/>
<rect x="337.80" y="832.95" width="3.20" height="1.1" fill="#0f6e75"/>
<rect x="331.60" y="832.00" width="6.20" height="3.0" fill="#0f6e75"/>
<rect x="328.20" y="831.00" width="3.40" height="5.0" fill="#0f6e75"/>
<text x="294" y="838.9" font-size="14.5" fill="#0f6e75" textLength="6.5" lengthAdjust="spacingAndGlyphs">A</text>
<line x1="731" y1="564.6" x2="901" y2="564.6" stroke="#0f6e75" stroke-width="1"/>
<line x1="731" y1="799.6" x2="901" y2="799.6" stroke="#0f6e75" stroke-width="1"/>
<line x1="736.6" y1="564.6" x2="736.6" y2="799.6" stroke="#0f6e75" stroke-width="1"/>
<rect x="736.05" y="564.90" width="1.1" height="3.20" fill="#0f6e75"/>
<rect x="735.10" y="568.10" width="3.0" height="6.20" fill="#0f6e75"/>
<rect x="734.10" y="574.30" width="5.0" height="3.40" fill="#0f6e75"/>
<rect x="736.05" y="796.10" width="1.1" height="3.20" fill="#0f6e75"/>
<rect x="735.10" y="789.90" width="3.0" height="6.20" fill="#0f6e75"/>
<rect x="734.10" y="786.50" width="5.0" height="3.40" fill="#0f6e75"/>
<text x="0" y="0" transform="translate(733.8,681.3) rotate(-90)" text-anchor="middle" font-size="18.5" fill="#0f6e75" textLength="20.5" lengthAdjust="spacingAndGlyphs">D2</text>
<line x1="790" y1="626.3" x2="848" y2="626.3" stroke="#0f6e75" stroke-width="1"/>
<line x1="790" y1="737.6" x2="848" y2="737.6" stroke="#0f6e75" stroke-width="1"/>
<line x1="795.3" y1="626.3" x2="795.3" y2="737.6" stroke="#0f6e75" stroke-width="1"/>
<rect x="794.75" y="626.60" width="1.1" height="3.20" fill="#0f6e75"/>
<rect x="793.80" y="629.80" width="3.0" height="6.20" fill="#0f6e75"/>
<rect x="792.80" y="636.00" width="5.0" height="3.40" fill="#0f6e75"/>
<rect x="794.75" y="734.10" width="1.1" height="3.20" fill="#0f6e75"/>
<rect x="793.80" y="727.90" width="3.0" height="6.20" fill="#0f6e75"/>
<rect x="792.80" y="724.50" width="5.0" height="3.40" fill="#0f6e75"/>
<text x="0" y="0" transform="translate(792,681.3) rotate(-90)" text-anchor="middle" font-size="18.5" fill="#0f6e75" textLength="20.5" lengthAdjust="spacingAndGlyphs">D8</text>
<line x1="1160" y1="514.3" x2="1225.4" y2="514.3" stroke="#0f6e75" stroke-width="1"/>
<line x1="1184.5" y1="507" x2="1184.5" y2="657" stroke="#0f6e75" stroke-width="1"/>
<line x1="1200.3" y1="509" x2="1200.3" y2="591.2" stroke="#0f6e75" stroke-width="1"/>
<rect x="1181.10" y="513.75" width="3.20" height="1.1" fill="#0f6e75"/>
<rect x="1174.90" y="512.80" width="6.20" height="3.0" fill="#0f6e75"/>
<rect x="1171.50" y="511.80" width="3.40" height="5.0" fill="#0f6e75"/>
<rect x="1200.50" y="513.75" width="3.20" height="1.1" fill="#0f6e75"/>
<rect x="1203.70" y="512.80" width="6.20" height="3.0" fill="#0f6e75"/>
<rect x="1209.90" y="511.80" width="3.40" height="5.0" fill="#0f6e75"/>
<text x="1182.3" y="510.6" font-size="16.5" fill="#0f6e75" textLength="20.7" lengthAdjust="spacingAndGlyphs">H3</text>
<line x1="1200" y1="591.2" x2="1309.6" y2="591.2" stroke="#0f6e75" stroke-width="1"/>
<line x1="1195" y1="772.5" x2="1309.6" y2="772.5" stroke="#0f6e75" stroke-width="1"/>
<line x1="1303.6" y1="591.2" x2="1303.6" y2="772.5" stroke="#0f6e75" stroke-width="1"/>
<rect x="1303.05" y="591.50" width="1.1" height="3.20" fill="#0f6e75"/>
<rect x="1302.10" y="594.70" width="3.0" height="6.20" fill="#0f6e75"/>
<rect x="1301.10" y="600.90" width="5.0" height="3.40" fill="#0f6e75"/>
<rect x="1303.05" y="769.00" width="1.1" height="3.20" fill="#0f6e75"/>
<rect x="1302.10" y="762.80" width="3.0" height="6.20" fill="#0f6e75"/>
<rect x="1301.10" y="759.40" width="5.0" height="3.40" fill="#0f6e75"/>
<text x="0" y="0" transform="translate(1300.3,681.5) rotate(-90)" text-anchor="middle" font-size="18.5" fill="#0f6e75" textLength="22.5" lengthAdjust="spacingAndGlyphs">D3</text>
<line x1="1195" y1="599.3" x2="1271.6" y2="599.3" stroke="#0f6e75" stroke-width="1"/>
<line x1="1195" y1="764.4" x2="1271.6" y2="764.4" stroke="#0f6e75" stroke-width="1"/>
<line x1="1266.5" y1="599.3" x2="1266.5" y2="764.4" stroke="#0f6e75" stroke-width="1"/>
<rect x="1265.95" y="599.60" width="1.1" height="3.20" fill="#0f6e75"/>
<rect x="1265.00" y="602.80" width="3.0" height="6.20" fill="#0f6e75"/>
<rect x="1264.00" y="609.00" width="5.0" height="3.40" fill="#0f6e75"/>
<rect x="1265.95" y="760.90" width="1.1" height="3.20" fill="#0f6e75"/>
<rect x="1265.00" y="754.70" width="3.0" height="6.20" fill="#0f6e75"/>
<rect x="1264.00" y="751.30" width="5.0" height="3.40" fill="#0f6e75"/>
<text x="0" y="0" transform="translate(1263,681) rotate(-90)" text-anchor="middle" font-size="18.5" fill="#0f6e75" textLength="21.7" lengthAdjust="spacingAndGlyphs">D4</text>
<line x1="1185" y1="656.4" x2="1237.6" y2="656.4" stroke="#0f6e75" stroke-width="1"/>
<line x1="1185" y1="707.3" x2="1237.6" y2="707.3" stroke="#0f6e75" stroke-width="1"/>
<line x1="1232.7" y1="656.4" x2="1232.7" y2="707.3" stroke="#0f6e75" stroke-width="1"/>
<rect x="1232.15" y="656.70" width="1.1" height="3.20" fill="#0f6e75"/>
<rect x="1231.20" y="659.90" width="3.0" height="6.20" fill="#0f6e75"/>
<rect x="1230.20" y="666.10" width="5.0" height="3.40" fill="#0f6e75"/>
<rect x="1232.15" y="703.80" width="1.1" height="3.20" fill="#0f6e75"/>
<rect x="1231.20" y="697.60" width="3.0" height="6.20" fill="#0f6e75"/>
<rect x="1230.20" y="694.20" width="5.0" height="3.40" fill="#0f6e75"/>
<text x="0" y="0" transform="translate(1229.3,681) rotate(-90)" text-anchor="middle" font-size="18.5" fill="#0f6e75" textLength="22.8" lengthAdjust="spacingAndGlyphs">D7</text>
<text x="994.9" y="829" font-size="15.5" fill="#0f6e75" textLength="53.1" lengthAdjust="spacingAndGlyphs">COUPE A–A</text>
</g>
<g id="tb">
<g fill="none" stroke="#000" stroke-width="1">
<rect x="1047.5" y="852.5" width="301" height="95"/>
<line x1="1047.5" y1="875.5" x2="1348.5" y2="875.5"/>
<line x1="1047.5" y1="899.5" x2="1348.5" y2="899.5"/>
<line x1="1047.5" y1="923.5" x2="1348.5" y2="923.5"/>
<line x1="1110.5" y1="852.5" x2="1110.5" y2="947.5"/>
<line x1="1237.5" y1="852.5" x2="1237.5" y2="875.5"/>
<line x1="1316.5" y1="923.5" x2="1316.5" y2="947.5"/>
</g>
<g font-size="5.5" font-weight="bold" fill="#111">
<text x="1112" y="859.5" textLength="14" lengthAdjust="spacingAndGlyphs">Date :</text>
<text x="1239" y="859.5" textLength="32" lengthAdjust="spacingAndGlyphs">Dessiné par :</text>
<text x="1049" y="882.5" textLength="20" lengthAdjust="spacingAndGlyphs">Feuille :</text>
<text x="1112" y="883" textLength="14" lengthAdjust="spacingAndGlyphs">Titre :</text>
<text x="1318" y="930" textLength="14" lengthAdjust="spacingAndGlyphs">Rév. :</text>
</g>
<g font-size="8.5" fill="#111">
<text x="1203.4" y="871" textLength="29.5" lengthAdjust="spacingAndGlyphs">23/09/2016</text>
<text x="1324.6" y="871" textLength="18" lengthAdjust="spacingAndGlyphs">BULLEE</text>
</g>
<text x="1071" y="896.8" font-size="16" fill="#221a22">1</text>
<text x="1082.3" y="895" font-size="7" fill="#555">/</text>
<text x="1088.8" y="896.8" font-size="16" fill="#221a22">1</text>
<text x="1172.6" y="893.2" font-size="22.5" fill="#d0141e" textLength="117.6" lengthAdjust="spacingAndGlyphs">PLCV_0120</text>
<text x="1173.8" y="915.8" font-size="12.5" fill="#6e737a" textLength="107.8" lengthAdjust="spacingAndGlyphs">www.hifi-filter.com</text>
<text x="1151.6" y="941.6" font-size="20.8" font-weight="bold" fill="#e0101a" textLength="121.9" lengthAdjust="spacingAndGlyphs">HIFI FILTER</text>
<text x="1058" y="932.6" font-size="8.5" font-weight="bold" fill="#222" textLength="42.8" lengthAdjust="spacingAndGlyphs">Solid Edge</text>
<text x="1075.8" y="943.6" font-size="8" fill="#555" textLength="8.2" lengthAdjust="spacingAndGlyphs">ISO</text>
<g fill="none" stroke="#000" stroke-width="1">
<line x1="1053" y1="911.5" x2="1082.5" y2="911.5"/>
<path d="M1059.5,907.5 L1081.5,905 L1081.5,918.5 L1059.5,915.5 Z"/>
<line x1="1085" y1="911.5" x2="1104" y2="911.5"/>
<circle cx="1094.6" cy="911.5" r="6.3"/>
<circle cx="1094.6" cy="911.5" r="3.8"/>
<line x1="1094.5" y1="902" x2="1094.5" y2="920.5"/>
</g>
</g>

</svg>
</body></html>
